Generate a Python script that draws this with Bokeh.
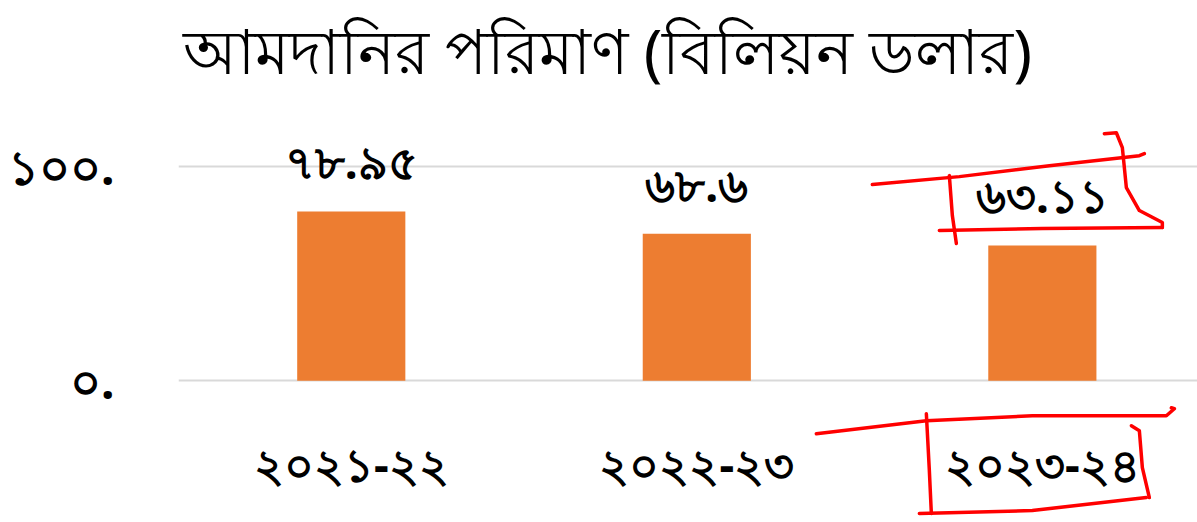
from bokeh.plotting import figure
from bokeh.models import Range1d, FixedTicker, ColumnDataSource, Title, PolyAnnotation
from bokeh.core.properties import value
from bokeh.embed import file_html
from bokeh.resources import INLINE

# ---- data ----
categories = ["২০২১-২২", "২০২২-২৩", "২০২৩-২৪"]
imports_bn_usd = [78.95, 68.6, 63.11]
y_tick_values = [0, 100]
y_tick_labels = ["০.", "১০০."]
title_text = "আমদানির পরিমাণ (বিলিয়ন ডলার)"

BN_DIGITS = str.maketrans("0123456789", "০১২৩৪৫৬৭৮৯")
value_labels = [str(v).translate(BN_DIGITS) for v in imports_bn_usd]

FONT = "Noto Sans"
ORANGE = "#ED7D31"

W, H = 1197, 522
LEFT, TOP = 178, 95
X0, X1 = -0.5, 2.449
Y0, Y1 = -66.05, 132.56

xs = list(range(len(categories)))
src = ColumnDataSource(dict(x=xs, top=imports_bn_usd, label=value_labels))

p = figure(width=W, height=H, output_backend="svg", toolbar_location=None,
           x_range=Range1d(X0, X1), y_range=Range1d(Y0, Y1),
           min_border_left=LEFT, min_border_right=0, min_border_top=TOP,
           min_border_bottom=0)
p.outline_line_color = None
p.background_fill_color = "white"
p.border_fill_color = "white"

title = Title(text=title_text, align="left", text_font=FONT,
              text_font_size="62px", text_font_style="normal",
              text_color="black", offset=4)
p.add_layout(title, "above")

p.vbar(x="x", top="top", width=0.313, bottom=0, source=src,
       fill_color=ORANGE, line_color=None)
p.text(x="x", y="top", text="label", source=src, text_align="center",
       text_baseline="middle", y_offset=-50, text_font=value(FONT),
       text_font_size="46px", text_font_style="bold", text_color="black")

# axes
p.xaxis.fixed_location = 0
p.xaxis.ticker = FixedTicker(ticks=xs)
p.xaxis.major_label_overrides = {i: c for i, c in zip(xs, categories)}
p.xaxis.major_label_text_font = FONT
p.xaxis.major_label_text_font_size = "46px"
p.xaxis.major_label_text_font_style = "bold"
p.xaxis.major_label_text_color = "black"
p.xaxis.major_label_standoff = 46
p.xaxis.axis_line_color = None
p.xaxis.major_tick_line_color = None
p.xaxis.minor_tick_line_color = None

p.yaxis.ticker = FixedTicker(ticks=y_tick_values)
p.yaxis.major_label_overrides = dict(zip(y_tick_values, y_tick_labels))
p.yaxis.major_label_text_font = FONT
p.yaxis.major_label_text_font_size = "48px"
p.yaxis.major_label_text_font_style = "bold"
p.yaxis.major_label_text_color = "black"
p.yaxis.major_label_standoff = 58
p.yaxis.axis_line_color = None
p.yaxis.major_tick_line_color = None
p.yaxis.minor_tick_line_color = None

p.xgrid.grid_line_color = None
p.ygrid.grid_line_color = "#d9d9d9"
p.ygrid.grid_line_width = 2

# ---- hand-drawn red highlight strokes around the last year's label & value ----
# offsets in pixels relative to the last bar's centre (dx) and its top / the baseline (dy, down positive)
px_per_x = (W - LEFT) / (X1 - X0)
px_per_y = (H - TOP) / (Y1 - Y0)
hx = xs[-1]
hy = imports_bn_usd[-1]

def stroke(pts, base_y):
    dxs = [hx + dx / px_per_x for dx, dy in pts]
    dys = [base_y - dy / px_per_y for dx, dy in pts]
    return dxs + dxs[::-1], dys + dys[::-1]

value_box = [
    [(-170, -61), (-83, -69), (7, -80), (97, -90), (102, -92)],
    [(-93, -70), (-90, -30), (-86, -2)],
    [(-103, -15), (0, -17), (120, -18)],
    [(62, -112), (74, -113), (80, -98), (84, -58), (97, -35), (120, -23), (120, -18)],
]
label_box = [
    [(-226, 53), (-116, 40), (-10, 35), (124, 35), (132, 28), (129, 27)],
    [(-116, 33), (-113, 90), (-111, 133)],
    [(-123, 133), (-10, 130), (104, 117)],
    [(89, 45), (97, 50), (100, 87), (107, 117)],
]
for s in value_box:
    ax, ay = stroke(s, hy)
    p.add_layout(PolyAnnotation(xs=ax, ys=ay, fill_alpha=0, line_color="#ff0000",
                                line_alpha=1.0, line_width=3.5, line_join="round"))
for s in label_box:
    ax, ay = stroke(s, 0)
    p.add_layout(PolyAnnotation(xs=ax, ys=ay, fill_alpha=0, line_color="#ff0000",
                                line_alpha=1.0, line_width=3.5, line_join="round"))

open("out.html", "w").write(file_html(p, INLINE))
